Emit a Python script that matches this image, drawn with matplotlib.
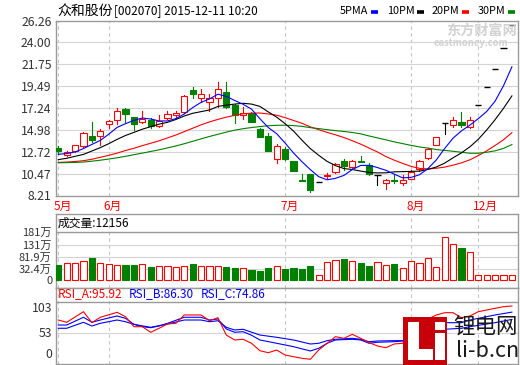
import numpy as np
import matplotlib
matplotlib.use('Agg')
import matplotlib.pyplot as plt
from matplotlib.patches import Rectangle
from matplotlib.lines import Line2D

plt.rcParams['font.family'] = ['Noto Sans CJK SC', 'DejaVu Sans']
plt.rcParams['axes.unicode_minus'] = False

# ---------------- data ----------------
stock_name = '众和股份'
stock_info = '[002070] 2015-12-11 10:20'
month_labels = ['5月', '6月', '7月', '8月', '12月']
month_first_bar = [0, 6, 27, 42, 50]

opens = [13.12, 12.43, 12.77, 13.32, 14.33, 14.36, 15.54, 15.99, 17.10, 16.27,
         15.75, 15.99, 15.40, 16.17, 16.51, 16.79, 19.10, 18.24, 17.82, 18.30,
         18.86, 17.54, 16.51, 16.68, 15.06, 14.33, 12.02, 12.98, 11.74, 9.79,
         10.39, 9.60, 10.18, 10.63, 11.74, 11.15, 11.74, 11.32, 10.36, 9.49,
         9.79, 9.49, 9.94, 10.91, 12.08, 13.40, 15.67, 15.47, 15.81, 15.30,
         17.59, 19.35, 21.29, 23.42, 25.76]
highs = [13.32, 12.85, 13.47, 14.71, 15.81, 15.09, 15.99, 17.26, 17.20, 16.33,
         16.92, 16.17, 16.51, 16.92, 16.92, 18.55, 19.44, 19.20, 18.65, 19.96,
         19.90, 17.62, 17.31, 16.85, 15.19, 14.61, 13.57, 13.22, 11.78, 10.46,
         10.39, 9.60, 10.49, 11.60, 12.02, 11.84, 12.26, 11.60, 10.36, 9.94,
         10.46, 10.28, 10.80, 11.84, 13.12, 14.25, 15.67, 16.33, 16.85, 16.33,
         17.59, 19.35, 21.29, 23.42, 25.76]
lows = [12.54, 12.29, 12.70, 13.22, 13.74, 13.40, 15.13, 15.54, 15.81, 14.95,
        15.65, 15.13, 15.30, 16.06, 16.33, 16.75, 18.30, 17.82, 16.92, 17.37,
        17.20, 15.65, 16.06, 15.81, 14.26, 12.80, 11.60, 11.84, 10.70, 9.75,
        8.62, 9.60, 9.97, 10.56, 10.80, 10.91, 11.68, 10.36, 9.32, 8.90,
        9.53, 9.25, 9.87, 10.70, 11.94, 13.40, 14.51, 15.30, 15.30, 15.13,
        17.59, 19.35, 21.29, 23.42, 25.76]
closes = [12.77, 12.70, 13.40, 14.61, 13.91, 14.82, 15.89, 16.92, 16.58, 15.57,
          16.06, 15.37, 15.92, 16.58, 16.75, 18.48, 18.65, 18.65, 18.30, 19.20,
          17.37, 16.51, 16.72, 15.81, 14.26, 12.80, 13.29, 11.94, 10.73, 9.75,
          8.73, 9.60, 10.34, 11.50, 11.25, 11.74, 11.70, 10.42, 10.36, 9.84,
          9.75, 9.77, 10.66, 11.74, 13.00, 14.25, 15.67, 15.99, 15.47, 15.99,
          17.59, 19.35, 21.29, 23.42, 25.76]
# volume in 万 (10k shares)
volumes = [48.6, 58.0, 58.0, 64.7, 78.2, 58.0, 52.5, 48.6, 48.6, 48.6,
           52.5, 40.5, 44.5, 44.5, 40.5, 44.5, 52.5, 44.5, 44.5, 44.5,
           40.5, 36.4, 35.0, 28.3, 24.3, 35.0, 44.5, 32.4, 36.4, 32.4,
           44.5, 6.7, 60.6, 67.5, 72.8, 64.7, 56.6, 44.5, 60.6, 48.6,
           52.5, 36.4, 64.7, 56.6, 75.6, 40.5, 160.6, 133.5, 117.3, 101.1,
           6.7, 6.7, 6.7, 6.7, 6.7]

ma5 = [12.46, 12.53, 12.70, 13.05, 13.48, 13.89, 14.53, 15.23, 15.62, 15.96,
       16.20, 16.10, 15.90, 15.90, 16.14, 16.62, 17.28, 17.82, 18.17, 18.66,
       18.43, 18.01, 17.62, 17.12, 16.13, 15.22, 14.58, 13.62, 12.60, 11.70,
       10.89, 10.15, 9.83, 9.98, 10.28, 10.89, 11.31, 11.32, 11.09, 10.81,
       10.41, 10.03, 10.08, 10.35, 10.98, 11.88, 13.06, 14.13, 14.88, 15.47,
       16.14, 16.88, 17.94, 19.53, 21.48]
ma10 = [11.91, 12.05, 12.25, 12.45, 12.80, 13.15, 13.55, 14.00, 14.40, 14.72,
        15.05, 15.31, 15.57, 15.76, 16.05, 16.41, 16.69, 16.86, 17.03, 17.40,
        17.53, 17.64, 17.72, 17.64, 17.40, 16.83, 16.29, 15.62, 14.86, 13.92,
        13.05, 12.36, 11.73, 11.29, 10.99, 10.89, 10.73, 10.58, 10.54, 10.55,
        10.65, 10.67, 10.70, 10.72, 10.90, 11.15, 11.55, 12.10, 12.61, 13.23,
        14.01, 14.97, 16.03, 17.20, 18.48]
ma20 = [11.62, 11.66, 11.72, 11.80, 11.95, 12.15, 12.35, 12.58, 12.85, 13.08,
        13.35, 13.60, 13.85, 14.15, 14.45, 14.80, 15.15, 15.50, 15.80, 16.06,
        16.29, 16.48, 16.64, 16.70, 16.72, 16.62, 16.49, 16.24, 15.95, 15.66,
        15.29, 15.00, 14.72, 14.47, 14.19, 13.86, 13.51, 13.10, 12.70, 12.23,
        11.85, 11.52, 11.21, 11.01, 10.95, 11.02, 11.14, 11.34, 11.58, 11.89,
        12.33, 12.82, 13.37, 13.96, 14.69]
ma30 = [11.58, 11.60, 11.62, 11.66, 11.75, 11.85, 11.97, 12.10, 12.25, 12.42,
        12.58, 12.75, 12.92, 13.12, 13.32, 13.55, 13.80, 14.05, 14.30, 14.52,
        14.75, 14.95, 15.10, 15.22, 15.32, 15.40, 15.45, 15.46, 15.42, 15.34,
        15.21, 15.11, 15.00, 14.90, 14.81, 14.71, 14.57, 14.35, 14.15, 13.95,
        13.74, 13.56, 13.38, 13.22, 13.10, 12.95, 12.86, 12.77, 12.67, 12.57,
        12.57, 12.67, 12.82, 13.07, 13.46]
ma_names = ['5PMA', '10PM', '20PM', '30PM']

price_ticks = [8.21, 10.47, 12.72, 14.98, 17.24, 19.49, 21.75, 24.00, 26.26]
vol_ticks = [0, 32.4, 81.9, 131, 181]
vol_tick_labels = ['0', '32.4万', '81.9万', '131万', '181万']
vol_title = '成交量:12156'

rsi_a_idx = [0, 1, 3, 4, 5, 7, 8, 9, 10, 11, 12, 13, 14, 15, 17, 18, 19, 20, 21, 22,
             23, 24, 25, 26, 27, 28, 29, 30, 31, 32, 33, 34, 35, 36, 37, 38, 39, 40,
             41, 42, 43, 45, 46, 47, 48, 49, 50, 52, 53, 54]
rsi_a = [73.9, 70.3, 87.0, 69.7, 78.2, 86.0, 79.1, 63.4, 63.4, 54.6, 60.9, 67.6, 68.7,
         81.8, 81.8, 72.8, 77.5, 50.3, 42.5, 43.6, 37.3, 25.6, 22.5, 26.7, 18.9, 16.2,
         13.7, 12.1, 26.7, 37.3, 47.7, 45.1, 51.4, 45.1, 38.5, 33.0, 30.4, 36.2, 37.3,
         53.0, 68.7, 81.8, 85.4, 85.4, 77.5, 80.2, 87.0, 92.3, 94.8, 95.92]
rsi_b_idx = [0, 1, 3, 4, 5, 7, 8, 9, 10, 11, 12, 13, 15, 17, 18, 19, 20, 21, 22, 23,
             24, 26, 28, 30, 31, 32, 33, 35, 36, 37, 38, 40, 41, 42, 43, 45, 46, 48,
             49, 52, 54]
rsi_b = [66.0, 66.0, 78.2, 70.3, 73.9, 80.2, 76.6, 67.1, 63.4, 61.8, 64.5, 68.7, 78.2,
         78.2, 73.9, 75.5, 59.8, 54.6, 55.5, 50.0, 42.5, 37.3, 32.0, 25.2, 29.4, 37.3,
         42.5, 43.6, 42.5, 37.3, 38.9, 39.8, 40.9, 45.1, 58.2, 68.7, 69.7, 69.7, 73.9,
         81.8, 86.30]
rsi_c_idx = [0, 1, 3, 4, 5, 7, 8, 9, 11, 13, 15, 17, 18, 19, 20, 21, 22, 24, 26, 28,
             30, 31, 32, 33, 35, 36, 37, 38, 40, 41, 42, 43, 45, 46, 48, 49, 52, 54]
rsi_c = [60.9, 60.9, 70.3, 64.5, 68.7, 73.9, 71.2, 67.1, 62.4, 67.6, 73.9, 73.9, 71.2,
         72.8, 62.4, 58.2, 59.3, 50.3, 46.7, 42.5, 36.2, 37.3, 41.4, 43.6, 45.1, 43.6,
         39.8, 40.9, 41.4, 41.4, 47.7, 50.3, 58.2, 59.3, 60.9, 63.4, 69.7, 74.86]
rsi_titles = ['RSI_A:95.92', 'RSI_B:86.30', 'RSI_C:74.86']
rsi_tick_labels = ['103', '53', '0']

# ---------------- style ----------------
RED = '#ff0000'
GREEN = '#008000'
BLUE = '#0000ff'
BLACK = '#000000'
GRID = '#d4d4d4'
FRAME = '#9a9a9a'
TXT = '#333333'
LW = 0.8

W, H = 520, 365
fig = plt.figure(figsize=(W / 100, H / 100), dpi=100)
fig.patch.set_facecolor('white')


def rect(x0, y0, x1, y1):
    return [x0 / W, 1 - y1 / H, (x1 - x0) / W, (y1 - y0) / H]


def fxy(x, y):
    return (x / W, 1 - y / H)


L, R = 55.5, 517.5
ax = fig.add_axes(rect(L, 20.5, R, 195.5))
axv = fig.add_axes(rect(L, 214, R, 287.5))
axr = fig.add_axes(rect(L, 287.5, R, 363.5))

n = len(closes)
xs = np.arange(n)
xmin = -0.333
xmax = xmin + (R - L) / 8.40
for a in (ax, axv, axr):
    a.set_xlim(xmin, xmax)
    a.set_xticks([])
    for s in a.spines.values():
        s.set_color(FRAME)
        s.set_linewidth(1.0)
    a.tick_params(axis='y', length=0, pad=2.8, labelsize=8.8, labelcolor=TXT)
    for m in month_first_bar:
        a.axvline(m, color='#c4c4c4', lw=0.8, ls=(0, (3, 3)), zorder=1)

# ---- main price panel ----
ax.set_ylim(price_ticks[0], price_ticks[-1])
ax.set_yticks(price_ticks)
ax.set_yticklabels(['%.2f' % t for t in price_ticks])
for t in price_ticks[1:-1]:
    ax.axhline(t, color=GRID, lw=0.8, zorder=1)

bw = 0.72
for i, (o, h, l, c) in enumerate(zip(opens, highs, lows, closes)):
    if c > o:
        col = RED
    elif c < o:
        col = GREEN
    else:
        col = BLACK
    top, bot = max(o, c), min(o, c)
    if c == o:
        ax.plot([i - bw / 2, i + bw / 2], [c, c], color=col, lw=LW + 0.2,
                solid_capstyle='butt', zorder=3)
        if h > l:
            ax.plot([i, i], [l, h], color=col, lw=LW, zorder=3)
    else:
        if h > top:
            ax.plot([i, i], [top, h], color=col, lw=LW, zorder=3)
        if l < bot:
            ax.plot([i, i], [l, bot], color=col, lw=LW, zorder=3)
        ax.add_patch(Rectangle((i - bw / 2, bot), bw, top - bot,
                               facecolor=(GREEN if c < o else 'white'),
                               edgecolor=col, lw=LW, zorder=3))

ax.plot(xs, ma20, color=RED, lw=LW, zorder=4)
ax.plot(xs, ma30, color=GREEN, lw=LW, zorder=4)
ax.plot(xs, ma10, color=BLACK, lw=LW, zorder=4)
ax.plot(xs, ma5, color=BLUE, lw=LW, zorder=4)

# ---- volume panel ----
vs = (vol_ticks[-1] - vol_ticks[1]) / (269 - 232.3)   # value per pixel
zero_px = 269 + vol_ticks[1] / vs
base = -(280 - zero_px) * vs                          # bars rest on the panel floor line
axv.set_ylim(-(287.5 - zero_px) * vs, (zero_px - 214) * vs)
axv.set_yticks(vol_ticks[1:])
axv.set_yticklabels(vol_tick_labels[1:])
axv.tick_params(axis='y', labelsize=8.0)
fig.text(*fxy(52.3, 281.3), vol_tick_labels[0], ha='right', va='center',
         fontsize=8.0, color=TXT)
for t in vol_ticks[1:-1]:
    axv.axhline(t, color=GRID, lw=0.8, zorder=1)
axv.axhline(vol_ticks[-1], color=FRAME, lw=1.0, zorder=2)
for i, v in enumerate(volumes):
    down = closes[i] < opens[i]
    col = GREEN if down else RED
    axv.add_patch(Rectangle((i - bw / 2, base), bw, v - base,
                            facecolor=(GREEN if down else 'white'),
                            edgecolor=col, lw=LW, zorder=3))

# ---- RSI panel ----
rs = 50 / (333.3 - 301.5)
axr.set_ylim(53 - (363.5 - 333.3) * rs, 103 + (301.5 - 287.5) * rs)
axr.set_yticks([])
axr.axhline(53, color=GRID, lw=0.8, zorder=1)
axr.axhline(103, color=FRAME, lw=1.0, zorder=2)
axr.plot(rsi_c_idx, rsi_c, color=BLUE, lw=LW, zorder=3)
axr.plot(rsi_b_idx, rsi_b, color=BLUE, lw=LW, zorder=3)
axr.plot(rsi_a_idx, rsi_a, color=RED, lw=LW, zorder=4)
for lab, y in zip(rsi_tick_labels, [309, 333.3, 355]):
    fig.text(*fxy(52.3, y), lab, ha='right', va='center', fontsize=8.8, color=TXT)

# ---- texts ----
fig.text(*fxy(57, 11), stock_name, ha='left', va='center', fontsize=10, color=BLACK)
fig.text(*fxy(113.5, 11), stock_info, ha='left', va='center', fontsize=8.5, color=BLACK)

leg_x = [340, 387, 432, 478]
dash_x = [371, 417, 462, 508]
ma_cols = [BLUE, BLACK, RED, GREEN]
for name, tx, dx, col in zip(ma_names, leg_x, dash_x, ma_cols):
    fig.text(*fxy(tx, 11), name, ha='left', va='center', fontsize=7.8, color=BLACK)
    x0, y0 = fxy(dx, 11.5)
    x1, _ = fxy(dx + 6.5, 11.5)
    fig.add_artist(Line2D([x0, x1], [y0, y0], color=col, lw=2.6,
                          solid_capstyle='butt', transform=fig.transFigure))

# eastmoney watermark (feather mark + name)
WM = '#d2d2d2'
for k, (xa, ya, xb, yb) in enumerate([(425, 44, 437, 24), (431, 44, 442, 27), (437, 42, 445, 31)]):
    p0, p1 = fxy(xa, ya), fxy(xb, yb)
    fig.add_artist(Line2D([p0[0], p1[0]], [p0[1], p1[1]], color=WM, lw=3.2 - k * 0.6,
                          solid_capstyle='round', transform=fig.transFigure, zorder=0))
fig.text(*fxy(446, 31), '东方财富网', ha='left', va='center', fontsize=10.2,
         fontweight='bold', color=WM, zorder=0)
fig.text(*fxy(434, 42.5), 'eastmoney.com', ha='left', va='center', fontsize=6.8,
         fontweight='bold', color=WM, zorder=0)

# month labels
for lab, m in zip(month_labels, month_first_bar):
    xp = L + (m - xmin) * (R - L) / (xmax - xmin)
    fig.text(*fxy(xp - 5, 206), lab, ha='left', va='center', fontsize=8.5, color=RED)

fig.text(*fxy(58, 223.5), vol_title, ha='left', va='center', fontsize=8.5, color=BLACK)
for lab, x0, col in zip(rsi_titles, [57.3, 128.3, 200.7], [RED, BLUE, BLUE]):
    fig.text(*fxy(x0, 294), lab, ha='left', va='center', fontsize=8.5, color=col)


# li-b.cn logo watermark
def frect(x0, y0, x1, y1, color, z=20):
    fig.add_artist(Rectangle(fxy(x0, y1), (x1 - x0) / W, (y1 - y0) / H,
                             transform=fig.transFigure, facecolor=color,
                             edgecolor='none', zorder=z))


frect(403.3, 317.3, 446.7, 365, '#c8000a')
frect(408.3, 321.7, 419.3, 360, 'white', 21)
frect(408.3, 349.3, 432.7, 360, 'white', 21)
frect(435, 321.7, 445, 330, 'white', 21)
frect(435, 333.3, 445, 360, 'white', 21)
fig.add_artist(plt.Text(*fxy(453, 327.5), '锂电网', ha='left', va='center',
                        fontsize=15.5, color='#1a1a1a', zorder=22,
                        transform=fig.transFigure))
fig.add_artist(plt.Text(*fxy(456, 351), 'li-b.cn', ha='left', va='center',
                        fontsize=15.5, color='#1a1a1a', zorder=22,
                        transform=fig.transFigure))

fig.savefig('out.png', dpi=100, facecolor='white')
